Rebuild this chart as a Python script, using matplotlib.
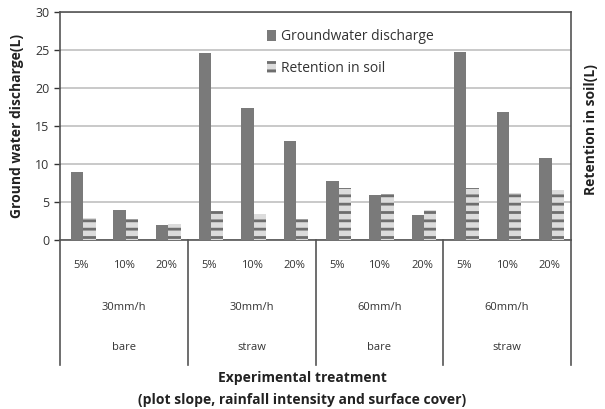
import matplotlib
matplotlib.use("Agg")
import matplotlib.pyplot as plt
import numpy as np

slopes = ["5%", "10%", "20%"]
intensities = ["30mm/h", "30mm/h", "60mm/h", "60mm/h"]
covers = ["bare", "straw", "bare", "straw"]
groundwater = [8.9, 4.0, 2.0, 24.6, 17.4, 13.0, 7.8, 5.9, 3.3, 24.7, 16.8, 10.8]
retention = [2.9, 2.7, 2.1, 3.8, 3.4, 2.7, 6.8, 6.0, 3.9, 6.8, 6.2, 6.6]

plt.rcParams['font.family'] = ['Open Sans', 'DejaVu Sans']
plt.rcParams['hatch.linewidth'] = 2.0

fig = plt.figure(figsize=(6.05, 4.09), dpi=100)
ax = fig.add_axes([60/605, 1-240/409, 511/605, 228/409])

n = len(groundwater)
x = np.arange(n)
w = 0.29
ax.bar(x - 0.1, groundwater, width=w, color="#7a7a7a", zorder=3,
       label="Groundwater discharge")
ax.bar(x + 0.19, retention, width=w, color="#dcdcdc", edgecolor="#6e6e6e",
       hatch="--", linewidth=0, zorder=3, label="Retention in soil")

ax.set_xlim(-0.5, n - 0.5)
ax.set_ylim(0, 30)
ax.set_yticks(range(0, 31, 5))
ax.tick_params(axis='y', labelsize=9, colors="#333333", length=4, width=1)
ax.set_xticks([])
ax.yaxis.grid(True, color="#c0c0c0", linewidth=1.2, zorder=0)
for s in ax.spines.values():
    s.set_color("#555555")
    s.set_linewidth(1.2)

ax.set_ylabel("Ground water discharge(L)", fontsize=10, fontweight="bold",
              color="#222222", labelpad=8)
fig.text(591/605, 1-130/409, "Retention in soil(L)", rotation=90,
         fontsize=10, fontweight="bold", color="#222222",
         ha="center", va="center")

# multi-level category labels
trans = ax.get_xaxis_transform()
def ycoord(py):
    return (240 - py) / 228.0

for i in range(n):
    ax.text(x[i], ycoord(265), slopes[i % 3], transform=trans, ha="center",
            va="center", fontsize=8, color="#333333")
for g in range(4):
    cx = 3 * g + 1
    ax.text(cx, ycoord(307), intensities[g], transform=trans, ha="center",
            va="center", fontsize=8, color="#333333")
    ax.text(cx, ycoord(347), covers[g], transform=trans, ha="center",
            va="center", fontsize=8, color="#333333")
for g in range(5):
    xb = 3 * g - 0.5
    ax.plot([xb, xb], [0, ycoord(365)], transform=trans, color="#555555",
            linewidth=1.2, clip_on=False)

fig.text(0.5, 1-378/409, "Experimental treatment", ha="center", va="center",
         fontsize=10, fontweight="bold", color="#222222")
fig.text(0.5, 1-400/409, "(plot slope, rainfall intensity and surface cover)",
         ha="center", va="center", fontsize=10, fontweight="bold", color="#222222")

leg = ax.legend(loc="upper left", bbox_to_anchor=(0.38, 0.98), frameon=False,
                fontsize=10, handlelength=0.7, handleheight=0.9,
                labelspacing=1.2, handletextpad=0.3)
for t in leg.get_texts():
    t.set_color("#333333")

fig.savefig("out.png", dpi=100)
